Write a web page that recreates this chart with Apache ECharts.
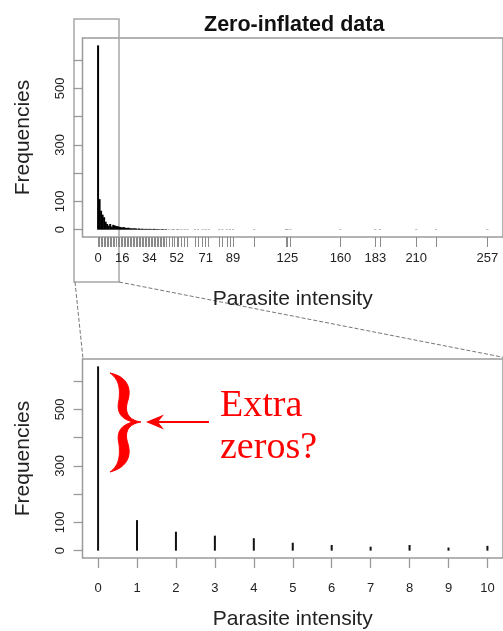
<!DOCTYPE html>
<html>
<head>
<meta charset="utf-8">
<script src="https://cdn.jsdelivr.net/npm/echarts@6/dist/echarts.min.js"></script>
<style>
html,body{margin:0;padding:0;background:#fff;}
#c{width:503px;height:631px;}
</style>
</head>
<body>
<div id="c"></div>
<script>
// ---- data ----
const intensity = [0,1,2,3,4,5,6,7,8,9,10,
  11,12,13,14,15,16,17,18,19,20,
  21,22,23,24,25,26,27,28,29,30,
  31,32,33,34,35,36,37,38,39,40,
  41,42,43,44,45,
  47,49,50,52,53,55,57,59,64,66,69,71,73,80,82,85,87,89,103,124,125,127,160,183,186,210,223,257];
const frequency = [652,108,67,53,44,28,20,14,20,11,17,
  15,13,12,10,9,8,9,7,6,7,
  5,5,4,5,4,3,4,3,3,3,
  2,3,2,3,2,2,3,2,2,2,
  1,2,2,1,2,
  1,1,1,1,1,1,1,1,1,1,1,1,1,1,1,1,1,1,1,1,1,1,1,1,1,1,1,1];
const topXLabels = [0,16,34,52,71,89,125,160,183,210,257];
const zoomXTicks = [0,1,2,3,4,5,6,7,8,9,10];
const yTicks = [0,100,200,300,400,500,600];
const yLabels = [0,100,300,500];

const topData = intensity.map((v,i)=>[v,frequency[i]]);
const zoomData = intensity.map((v,i)=>[v,frequency[i]]).filter(d=>d[0]<=10);

const gray = '#9a9a9a';
const txt = '#222';
const sans = 'Liberation Sans, Arial, sans-serif';

// brace outline (decoration) sampled from cubic curves
function cubicPts(p0,p1,p2,p3,n){
  const out=[];
  for(let i=1;i<=n;i++){
    const t=i/n, u=1-t;
    out.push([u*u*u*p0[0]+3*u*u*t*p1[0]+3*u*t*t*p2[0]+t*t*t*p3[0],
              u*u*u*p0[1]+3*u*u*t*p1[1]+3*u*t*t*p2[1]+t*t*t*p3[1]]);
  }
  return out;
}
function bracePoints(){
  const segs=[
    [[110,373],[129,377],[131,390],[128,400]],
    [[128,400],[124,412],[128,420],[141,422]],
    [[141,422],[128,424],[124,432],[128,444]],
    [[128,444],[131,454],[129,467],[110,472]],
    [[110,472],[120,465],[120,454],[119,444]],
    [[119,444],[116,432],[121,425],[133,422]],
    [[133,422],[121,419],[116,412],[119,400]],
    [[119,400],[120,390],[120,380],[110,373]]
  ];
  let pts=[[110,373]];
  segs.forEach(s=>{pts=pts.concat(cubicPts(s[0],s[1],s[2],s[3],16));});
  return pts;
}

function yAxisCfg(grid){
  return {
    gridIndex: grid, type:'value', min:-26, max:678,
    name:'Frequencies', nameLocation:'middle', nameGap:49, nameRotate:90,
    nameTextStyle:{fontSize:21, color:txt, fontFamily:sans},
    axisLine:{show:false, onZero:false},
    axisTick:{show:true, length:9, customValues:yTicks, lineStyle:{color:gray, width:1.3}},
    axisLabel:{rotate:90, margin:15.5, fontSize:13, color:txt, fontFamily:sans, customValues:yLabels},
    splitLine:{show:false}
  };
}

const chart = echarts.init(document.getElementById('c'), null, {renderer:'canvas'});
chart.setOption({
  animation:false,
  backgroundColor:'#fff',
  title:{text:'Zero-inflated data', left:199, top:9,
    textStyle:{fontSize:21.5, fontWeight:'bold', color:'#111', fontFamily:sans}},
  grid:[
    {left:82.5, top:38, width:430, height:199, show:true, borderColor:gray, borderWidth:1.5, backgroundColor:'transparent'},
    {left:82.5, top:359, width:430, height:199, show:true, borderColor:gray, borderWidth:1.5, backgroundColor:'transparent'}
  ],
  xAxis:[
    {gridIndex:0, type:'value', min:-10.28, max:267.28,
     name:'Parasite intensity', nameLocation:'middle', nameGap:52,
     nameTextStyle:{fontSize:21, color:txt, fontFamily:sans},
     axisLine:{show:false, onZero:false},
     axisTick:{show:true, length:10, customValues:intensity, lineStyle:{color:'#8a8a8a', width:1}},
     axisLabel:{margin:15, fontSize:13, color:txt, fontFamily:sans, customValues:topXLabels},
     splitLine:{show:false}},
    {gridIndex:1, type:'value', min:-0.4, max:10.4,
     name:'Parasite intensity', nameLocation:'middle', nameGap:51,
     nameTextStyle:{fontSize:21, color:txt, fontFamily:sans},
     axisLine:{show:false, onZero:false},
     axisTick:{show:true, length:10, customValues:zoomXTicks, lineStyle:{color:gray, width:1.3}},
     axisLabel:{margin:24, fontSize:13, color:txt, fontFamily:sans, customValues:zoomXTicks},
     splitLine:{show:false}}
  ],
  yAxis:[yAxisCfg(0), yAxisCfg(1)],
  series:[
    {type:'bar', xAxisIndex:0, yAxisIndex:0, data:topData, barWidth:2, itemStyle:{color:'#000'}, silent:true},
    {type:'bar', xAxisIndex:1, yAxisIndex:1, data:zoomData, barWidth:2, itemStyle:{color:'#111'}, silent:true}
  ],
  graphic:[
    {type:'rect', shape:{x:74, y:19, width:45, height:263}, style:{fill:'none', stroke:'#a8a8a8', lineWidth:1.5}},
    {type:'line', shape:{x1:75, y1:282, x2:83, y2:359}, style:{stroke:'#777', lineWidth:1, lineDash:[4,2]}},
    {type:'line', shape:{x1:119, y1:282, x2:512, y2:359}, style:{stroke:'#777', lineWidth:1, lineDash:[4,2]}},
    {type:'polygon', shape:{points:bracePoints()}, style:{fill:'#ff0000', stroke:'#ff0000', lineWidth:1}},
    {type:'line', shape:{x1:158, y1:422, x2:209, y2:422}, style:{stroke:'#ff0000', lineWidth:2}},
    {type:'polygon', shape:{points:[[146,422],[164,414.5],[158,422],[164,429.5]]}, style:{fill:'#ff0000'}},
    {type:'text', x:220, y:387, style:{text:'Extra', font:'38px "Liberation Serif", "Times New Roman", serif', fill:'#ff0000'}},
    {type:'text', x:220, y:429, style:{text:'zeros?', font:'38px "Liberation Serif", "Times New Roman", serif', fill:'#ff0000'}}
  ]
});
</script>
</body>
</html>
